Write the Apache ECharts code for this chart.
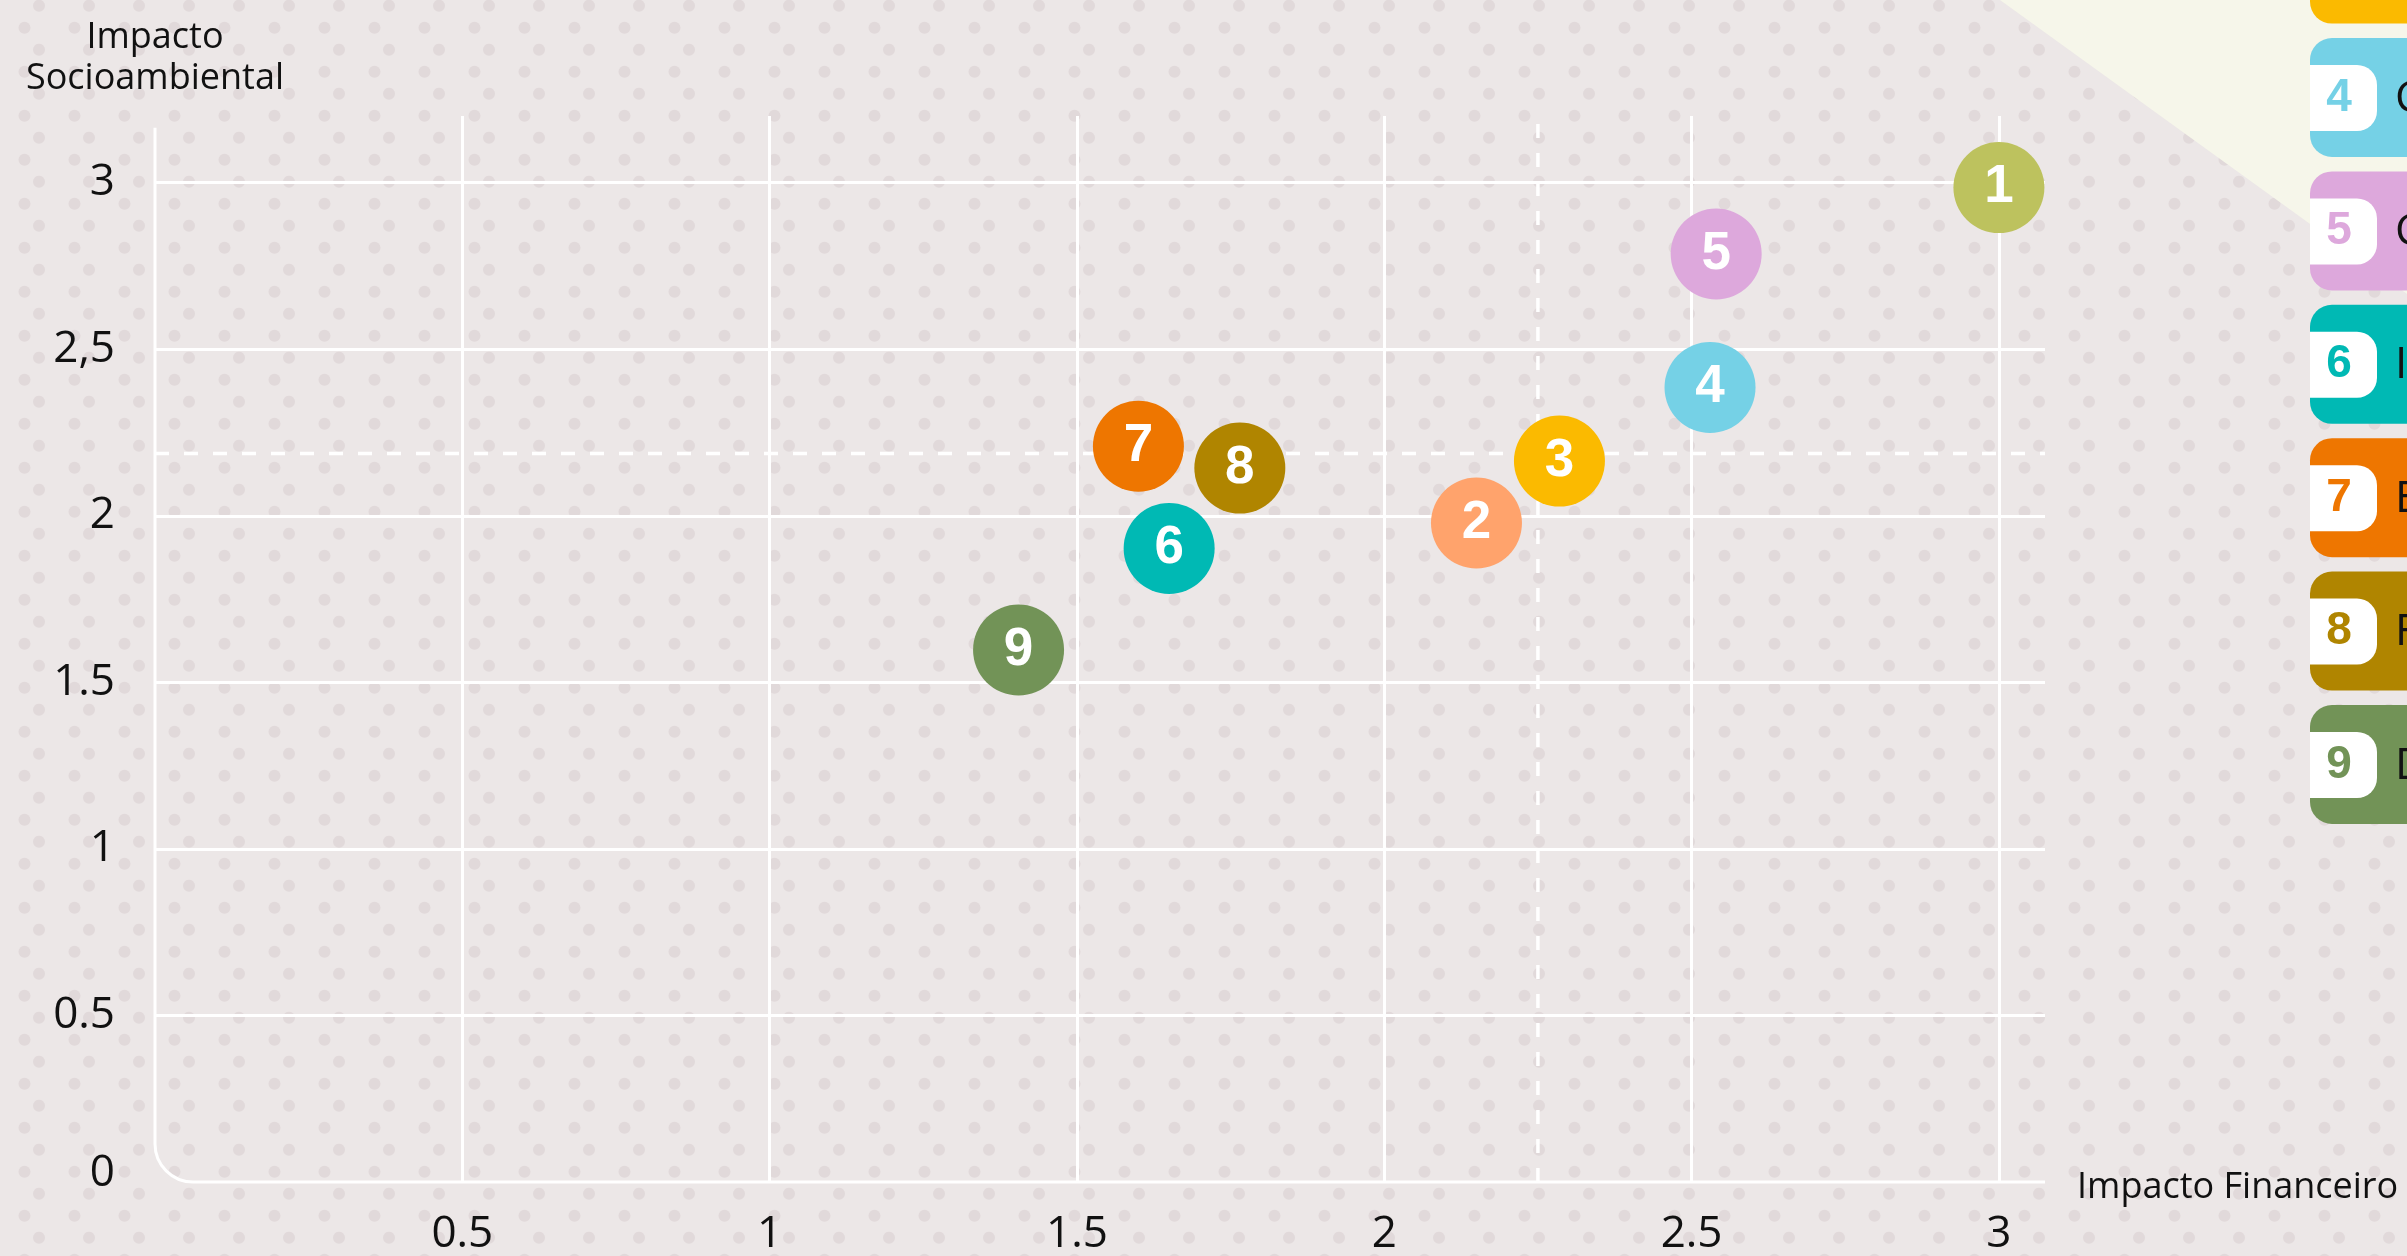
<!DOCTYPE html>
<html>
<head>
<meta charset="utf-8">
<title>Matriz de materialidade</title>
<script src="https://cdn.jsdelivr.net/npm/echarts@6/dist/echarts.min.js"></script>
<style>
html, body { margin: 0; padding: 0; background: #ECE7E7; }
#chart { width: 2407px; height: 1256px; }
</style>
</head>
<body>
<div id="chart"></div>
<script>
// temas da matriz (número, nome, cor)
const temas = ['1', '2', '3', '4', '5', '6', '7', '8', '9'];
const nomes = [
  'Governança', 'Água', 'Resíduos', 'Clima', 'Comunidades',
  'Inovação', 'Educação', 'Fornecedores', 'Diversidade'
];
const cores = [
  '#BDC25E', '#FFA36C', '#FBBA00', '#75D1E6', '#DDA8DC',
  '#00B9B4', '#EE7600', '#B08500', '#729357'
];
// valores
const impactoFinanceiro = [3.0, 2.15, 2.285, 2.53, 2.54, 1.65, 1.6, 1.765, 1.405];
const impactoSocio = [2.985, 1.978, 2.164, 2.385, 2.786, 1.902, 2.209, 2.143, 1.597];
// linhas de referência tracejadas
const refX = 2.25;
const refY = 2.187;
// rótulos dos eixos
const xTickLabels = ['', '0.5', '1', '1.5', '2', '2.5', '3'];
const yTickLabels = ['0', '0.5', '1', '1.5', '2', '2,5', '3'];

const FONT = 'Open Sans';
const xMax = 3.075;
const yMax = 3.2;

// fundo pontilhado
const tile = document.createElement('canvas');
tile.width = 50;
tile.height = 44;
const tctx = tile.getContext('2d');
tctx.fillStyle = '#E1D9DA';
[[39, 5.7], [39, 49.7], [24.5, 27.7]].forEach(function (d) {
  tctx.beginPath();
  tctx.arc(d[0], d[1], 6, 0, Math.PI * 2);
  tctx.fill();
});

function tickLabel(list, v) {
  const idx = Math.round(v / 0.5);
  if (Math.abs(v - idx * 0.5) > 1e-6 || idx >= list.length) return '';
  return list[idx];
}

const dashStyle = { color: '#fff', width: 3.5, type: [14, 15] };

const chart = echarts.init(document.getElementById('chart'));

const option = {
  backgroundColor: '#ECE7E7',
  animation: false,
  grid: { left: 155, right: 362, top: 116, bottom: 73 },
  xAxis: {
    type: 'value',
    min: 0,
    max: xMax,
    interval: 0.5,
    name: '{n|Impacto Financeiro}',
    nameLocation: 'end',
    nameGap: 32,
    nameTextStyle: {
      verticalAlign: 'middle',
      rich: {
        n: { fontFamily: FONT, fontSize: 36, color: '#111', padding: [12, 0, 0, 0] }
      }
    },
    axisLine: { show: false },
    axisTick: { show: false },
    axisLabel: {
      margin: 30,
      fontFamily: FONT,
      fontSize: 44,
      color: '#111',
      formatter: function (v) { return tickLabel(xTickLabels, v); }
    },
    splitLine: {
      show: true,
      showMinLine: false,
      showMaxLine: false,
      lineStyle: { color: '#fff', width: 3 }
    }
  },
  yAxis: {
    type: 'value',
    min: 0,
    max: yMax,
    interval: 0.5,
    name: 'Impacto\nSocioambiental',
    nameLocation: 'end',
    nameGap: 17,
    nameTextStyle: { fontFamily: FONT, fontSize: 36, lineHeight: 41, color: '#111', align: 'center' },
    axisLine: { show: false },
    axisTick: { show: false },
    axisLabel: {
      margin: 40,
      fontFamily: FONT,
      fontSize: 44,
      color: '#111',
      formatter: function (v) {
        const t = tickLabel(yTickLabels, v);
        return v === 0 ? '{zero|' + t + '}' : t;
      },
      rich: {
        zero: { fontFamily: FONT, fontSize: 44, color: '#111', padding: [0, 0, 18, 0] }
      }
    },
    splitLine: {
      show: true,
      showMinLine: false,
      showMaxLine: false,
      lineStyle: { color: '#fff', width: 3 }
    }
  },
  series: [
    {
      type: 'line',
      z: 1,
      silent: true,
      symbol: 'none',
      lineStyle: dashStyle,
      data: [[refX, 0], [refX, yMax]]
    },
    {
      type: 'line',
      z: 1,
      silent: true,
      symbol: 'none',
      lineStyle: dashStyle,
      data: [[0, refY], [xMax, refY]]
    },
    {
      type: 'scatter',
      z: 3,
      symbolSize: 91,
      data: temas.map(function (t, i) {
        return {
          name: t,
          value: [impactoFinanceiro[i], impactoSocio[i]],
          itemStyle: { color: cores[i], opacity: 1 }
        };
      }),
      label: {
        show: true,
        position: 'inside',
        formatter: function (p) { return p.name; },
        color: '#fff',
        fontFamily: 'Liberation Sans',
        fontWeight: 'bold',
        fontSize: 53
      }
    }
  ]
};

chart.setOption(option);

// eixos com canto arredondado
const p0 = chart.convertToPixel({ gridIndex: 0 }, [0, 0]);
const pTop = chart.convertToPixel({ gridIndex: 0 }, [0, 3.165]);
const pEnd = chart.convertToPixel({ gridIndex: 0 }, [xMax, 0]);
const r = 38;
const axisStyle = { stroke: '#fff', lineWidth: 3, fill: null };

const graphics = [
  {
    type: 'rect', z: -10, silent: true,
    shape: { x: 0, y: 0, width: 2407, height: 1256 },
    style: { fill: { image: tile, repeat: 'repeat' } }
  },
  {
    type: 'polygon', z: -9, silent: true,
    shape: { points: [[2000, 0], [2407, 294], [2407, 0]] },
    style: { fill: '#F6F6EA' }
  },
  {
    type: 'line', z: 1, silent: true,
    shape: { x1: p0[0], y1: pTop[1], x2: p0[0], y2: p0[1] - r },
    style: axisStyle
  },
  {
    type: 'bezierCurve', z: 1, silent: true,
    shape: {
      x1: p0[0], y1: p0[1] - r,
      cpx1: p0[0], cpy1: p0[1] - r * 0.45,
      cpx2: p0[0] + r * 0.45, cpy2: p0[1],
      x2: p0[0] + r, y2: p0[1]
    },
    style: axisStyle
  },
  {
    type: 'line', z: 1, silent: true,
    shape: { x1: p0[0] + r, y1: p0[1], x2: pEnd[0], y2: p0[1] },
    style: axisStyle
  }
];

// legenda lateral (parcialmente fora da área visível)
const legendX = 2310;
const legendStep = 133.4;
const legendTop0 = 38 - 3 * legendStep;
temas.forEach(function (t, i) {
  graphics.push({
    type: 'group',
    x: legendX,
    y: legendTop0 + i * legendStep,
    z: 10,
    silent: true,
    children: [
      {
        type: 'rect',
        shape: { x: 0, y: 0, width: 200, height: 119, r: [22, 0, 0, 22] },
        style: { fill: cores[i] }
      },
      {
        type: 'rect',
        shape: { x: 0, y: 27, width: 67, height: 66, r: [0, 20, 20, 0] },
        style: { fill: '#fff' }
      },
      {
        type: 'text',
        x: 29, y: 60,
        style: {
          text: t, fill: cores[i],
          fontFamily: 'Liberation Sans', fontWeight: 'bold', fontSize: 46,
          align: 'center', verticalAlign: 'middle'
        }
      },
      {
        type: 'text',
        x: 85, y: 61,
        style: {
          text: nomes[i], fill: '#111',
          fontFamily: FONT, fontSize: 44,
          align: 'left', verticalAlign: 'middle'
        }
      }
    ]
  });
});

chart.setOption({ graphic: graphics });
</script>
</body>
</html>
